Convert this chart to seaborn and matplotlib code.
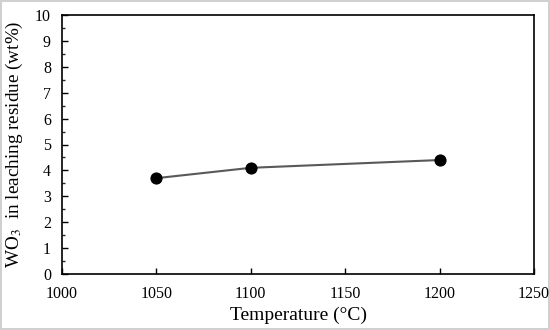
import matplotlib
matplotlib.use("Agg")
import matplotlib.pyplot as plt
import seaborn as sns
import pandas as pd
from matplotlib.ticker import MultipleLocator

temperature = [1050, 1100, 1200]
wo3 = [3.7, 4.1, 4.4]

sns.set_theme(style="ticks")
plt.rcParams['font.family'] = ['Liberation Serif', 'DejaVu Serif']
plt.rcParams['mathtext.fontset'] = 'stix'

df = pd.DataFrame({"T": temperature, "WO3": wo3})

fig = plt.figure(figsize=(5.5, 3.3), dpi=100)
fig.patch.set_edgecolor('#d0d0d0')
fig.patch.set_linewidth(1.5)
ax = fig.add_axes([62/550, 1 - 274/330, (534-62)/550, (274-15)/330])

sns.lineplot(data=df, x="T", y="WO3", ax=ax, color="#595959", linewidth=1.5,
             marker="o", markersize=8, markerfacecolor="black", markeredgecolor="black")

ax.set_xlim(1000, 1250)
ax.set_ylim(0, 10)
ax.xaxis.set_major_locator(MultipleLocator(50))
ax.yaxis.set_major_locator(MultipleLocator(1))
ax.yaxis.set_minor_locator(MultipleLocator(0.5))
ax.tick_params(axis='both', which='major', direction='in', length=4, width=1,
               labelsize=11.5, colors='black')
ax.tick_params(axis='x', which='major', pad=9)
ax.tick_params(axis='y', which='major', pad=8)
ax.tick_params(axis='y', which='minor', direction='in', length=2.5, width=1)
ax.tick_params(axis='x', which='minor', bottom=False)
for s in ax.spines.values():
    s.set_color('black')
    s.set_linewidth(1.2)

ax.set_xlabel("Temperature (°C)", fontsize=14, color='black', labelpad=3)
ax.set_ylabel(r"WO$_3$  in leaching residue (wt%)", fontsize=13.8, color='black', labelpad=7)

fig.savefig("out.png", dpi=100)
